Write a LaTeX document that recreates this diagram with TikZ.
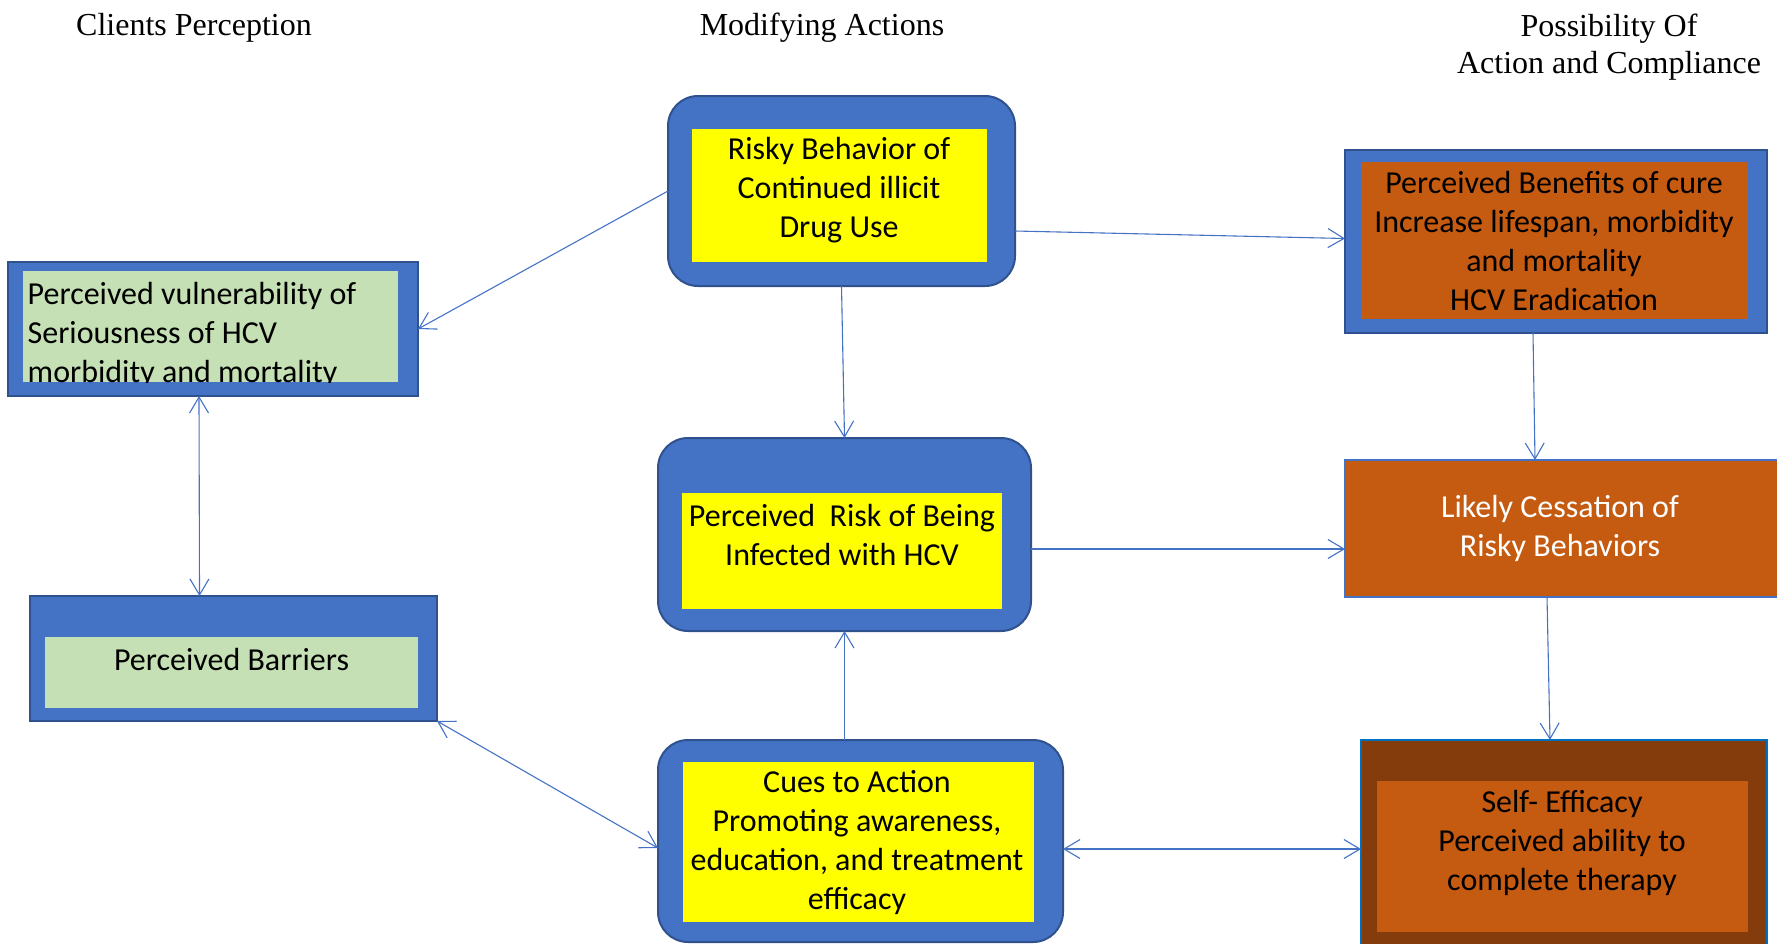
\documentclass[tikz,border=0pt]{standalone}
\usepackage{fontspec}
\setmainfont{Carlito}
\newfontfamily\hdrfont{Liberation Serif}
\usetikzlibrary{arrows.meta,calc}
\definecolor{bxblue}{HTML}{4472C4}
\definecolor{bxedge}{HTML}{2F528F}
\definecolor{bxyellow}{HTML}{FFFF00}
\definecolor{bxgreen}{HTML}{C5E0B4}
\definecolor{bxorange}{HTML}{C55A11}
\definecolor{bxbrown}{HTML}{843C0C}
\definecolor{bxbright}{HTML}{0070C0}
\begin{document}
\begin{tikzpicture}[x=1pt,y=-1pt,
  outerbox/.style={draw=bxedge, fill=bxblue, line width=2pt, inner sep=0pt, outer sep=0pt},
  roundbox/.style={outerbox, rounded corners=30pt},
  innerbox/.style={fill=#1, inner sep=0pt, outer sep=0pt},
  body/.style={font=\fontsize{32}{39}\selectfont, align=center, inner sep=0pt, text=black},
  hdr/.style={font=\hdrfont\fontsize{32}{37}\selectfont, align=center, inner sep=0pt},
  tipb/.tip={Straight Barb[length=16pt,width=19pt]},
  conn/.style={draw=bxblue, line width=1.1pt, -tipb},
  conntwo/.style={draw=bxblue, line width=1.1pt, tipb-tipb},
]
\useasboundingbox (0,0) rectangle (1777,943);

% headers
\node[hdr, anchor=base] (h1) at (194,35) {Clients Perception};
\node[hdr, anchor=base] (h2) at (822,35) {Modifying Actions};
\node[hdr] (h3) at (1609,47) {Possibility Of\\Action and Compliance};

% vulnerability
\node[outerbox, minimum width=410pt, minimum height=134pt] (vuln) at (213,329) {};
\node[innerbox=bxgreen, minimum width=375pt, minimum height=111pt] (vulnin) at (210.5,326.5) {};
\begin{scope}
  \clip (vulnin.south west) rectangle (vulnin.north east);
  \node[body, align=left, anchor=west] (vulnT) at (27.5,334.5) {Perceived vulnerability of\\Seriousness of HCV\\morbidity and mortality};
\end{scope}

% barriers
\node[outerbox, minimum width=407pt, minimum height=125pt] (barr) at (233.5,658.5) {};
\node[innerbox=bxgreen, minimum width=373pt, minimum height=71pt] (barrin) at (231.5,672.5) {};
\node[body] (barrT) at (231.5,659) {Perceived Barriers};

% risky behaviour
\node[roundbox, minimum width=347pt, minimum height=190pt] (risky) at (841.5,191) {};
\node[innerbox=bxyellow, minimum width=295pt, minimum height=133pt] (riskyin) at (839.5,195.5) {};
\node[body] (riskyT) at (839,190) {Risky Behavior of\\Continued illicit\\Drug Use};

% perceived risk
\node[roundbox, minimum width=373pt, minimum height=193pt] (risk) at (844.5,534.5) {};
\node[innerbox=bxyellow, minimum width=320pt, minimum height=116pt] (riskin) at (842,551) {};
\node[body] (riskT) at (842,535) {Perceived\ \ Risk of Being\\Infected with HCV};

% cues to action
\node[roundbox, minimum width=405pt, minimum height=202pt] (cues) at (860.5,841) {};
\node[innerbox=bxyellow, minimum width=351pt, minimum height=160pt] (cuesin) at (858.5,842) {};
\node[body] (cuesT) at (857,843) {Cues to Action\\Promoting awareness,\\education, and treatment\\efficacy};

% benefits
\node[outerbox, minimum width=422pt, minimum height=183pt] (ben) at (1556,241.5) {};
\node[innerbox=bxorange, minimum width=387pt, minimum height=157pt] (benin) at (1554.5,240.5) {};
\node[body] (benT) at (1554,241) {Perceived Benefits of cure\\Increase lifespan, morbidity\\and mortality\\HCV Eradication};

% cessation
\node[draw=bxblue, fill=bxorange, line width=2pt, inner sep=0pt, outer sep=0pt, minimum width=445pt, minimum height=137pt] (cess) at (1567.5,528.5) {};
\node[body, text=white] (cessT) at (1560,528) {Likely Cessation of\\Risky Behaviors};

% self efficacy
\node[draw=bxbright, fill=bxbrown, line width=2pt, inner sep=0pt, outer sep=0pt, minimum width=406pt, minimum height=220pt] (self) at (1564,850) {};
\node[innerbox=bxorange, minimum width=371pt, minimum height=151pt] (selfin) at (1562.5,856.5) {};
\node[body] (selfT) at (1562,843) {Self- Efficacy\\Perceived ability to\\complete therapy};

% connectors
\draw[conn] (risky.west) -- (vuln.east);
\draw[conntwo] ([xshift=-14pt]vuln.south) -- ([xshift=-34pt]barr.north);
\draw[conn] (risky.south) -- (risk.north);
\draw[conn] ([yshift=-40pt]risky.east) -- ([yshift=3pt]ben.west);
\draw[conn] ([xshift=-23pt]ben.south) -- ([xshift=-32.5pt]cess.north);
\coordinate (rc) at ([yshift=-14.5pt]risk.east);
\draw[conn] (rc) -- (rc -| cess.west);
\draw[conn] ([xshift=-20.5pt]cess.south) -- ([xshift=-14pt]self.north);
\draw[conn] (cues.north -| risk.south) -- (risk.south);
\draw[conntwo] (barr.south east) -- ([yshift=-7pt]cues.west);
\coordinate (cc) at ([yshift=-8pt]cues.east);
\draw[conntwo] (cc) -- (cc -| self.west);
\end{tikzpicture}
\end{document}
